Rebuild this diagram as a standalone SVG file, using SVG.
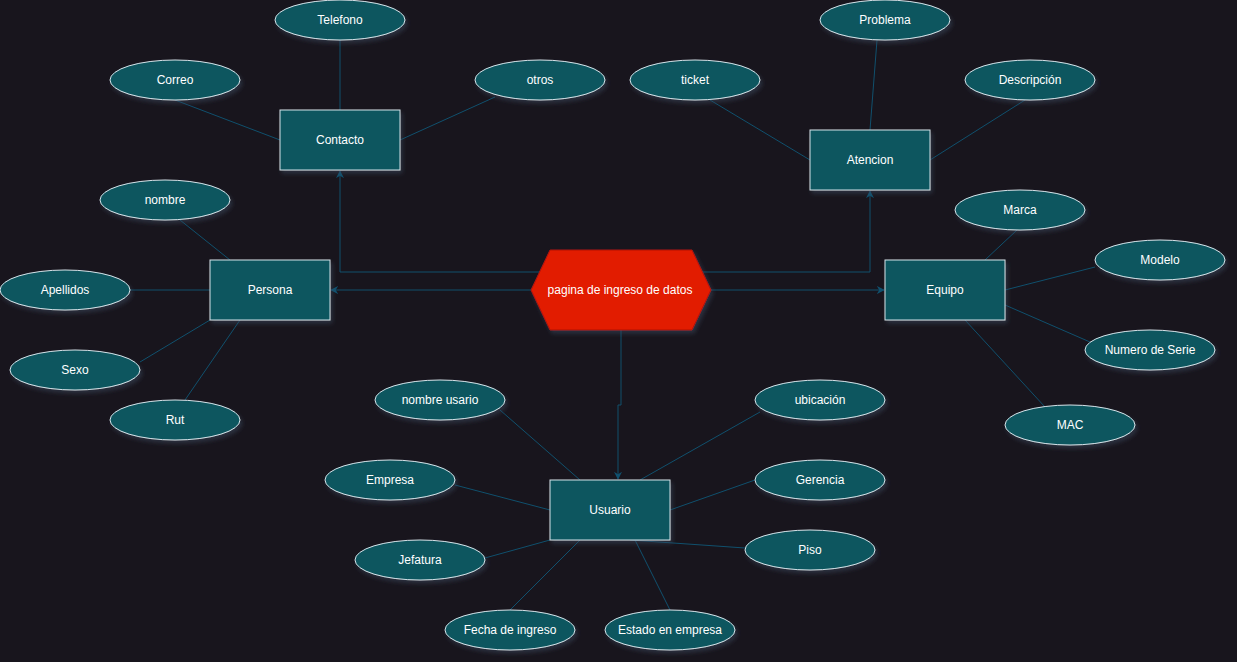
<svg xmlns="http://www.w3.org/2000/svg" width="1237" height="662" viewBox="0 0 1237 662">
<defs>
<filter id="sh" x="-20%" y="-20%" width="140%" height="150%">
<feDropShadow dx="2" dy="3" stdDeviation="2" flood-color="#3a4a5e" flood-opacity="0.5"/>
</filter>
<marker id="arr" viewBox="0 0 10 10" refX="9" refY="5" markerWidth="8" markerHeight="8" markerUnits="userSpaceOnUse" orient="auto">
<path d="M0,0 L10,5 L0,10 L3,5 Z" fill="#10516f"/>
</marker>
</defs>
<style>
.bg{fill:#18151d}
.n{fill:#0b575e;stroke:#d7e3ea;stroke-width:1;filter:url(#sh)}
.hx{fill:#e21a00;stroke:#b0150a;stroke-width:1;filter:url(#sh)}
.t{font-family:"Liberation Sans",Arial,sans-serif;font-size:12px;fill:#ffffff;text-anchor:middle;dominant-baseline:central}
.c{fill:none;stroke:#10506d;stroke-width:1}
.a{marker-end:url(#arr)}
</style>
<rect class="bg" x="0" y="0" width="1237" height="662"/>
<g id="connectors">
<path class="c a" d="M540,272 L340,272 L340,171"/>
<path class="c a" d="M702,272 L870,272 L870,191"/>
<path class="c a" d="M531,290 L331,290"/>
<path class="c a" d="M711,290 L884,290"/>
<path class="c a" d="M621,330 L621,405 L618,405 L618,479"/>
<path class="c" d="M340,40 L340,110"/>
<path class="c" d="M175,100 L280,140"/>
<path class="c" d="M495,97 L400,140"/>
<path class="c" d="M710,100 L810,160"/>
<path class="c" d="M877,40 L870,130"/>
<path class="c" d="M1025,100 L930,160"/>
<path class="c" d="M180,220 L230,260"/>
<path class="c" d="M130,290 L210,290"/>
<path class="c" d="M140,362 L210,320"/>
<path class="c" d="M185,400 L240,320"/>
<path class="c" d="M1017,230 L985,260"/>
<path class="c" d="M1095,267 L1005,290"/>
<path class="c" d="M1090,342 L1005,305"/>
<path class="c" d="M1045,407 L965,320"/>
<path class="c" d="M500,410 L580,480"/>
<path class="c" d="M760,412 L640,480"/>
<path class="c" d="M455,485 L550,510"/>
<path class="c" d="M755,480 L670,510"/>
<path class="c" d="M485,558 L550,540"/>
<path class="c" d="M745,548 L630,540"/>
<path class="c" d="M510,610 L580,540"/>
<path class="c" d="M670,610 L635,540"/>
</g>
<g id="hub"><polygon class="hx" points="531,290 550,250 692,250 711,290 692,330 550,330"/><text class="t" x="620" y="290">pagina de ingreso de datos</text></g>
<g id="contacto"><rect class="n" x="280" y="110" width="120" height="60"/><text class="t" x="340" y="140">Contacto</text></g>
<g id="atencion"><rect class="n" x="810" y="130" width="120" height="60"/><text class="t" x="870" y="160">Atencion</text></g>
<g id="persona"><rect class="n" x="210" y="260" width="120" height="60"/><text class="t" x="270" y="290">Persona</text></g>
<g id="equipo"><rect class="n" x="885" y="260" width="120" height="60"/><text class="t" x="945" y="290">Equipo</text></g>
<g id="usuario"><rect class="n" x="550" y="480" width="120" height="60"/><text class="t" x="610" y="510">Usuario</text></g>
<g id="telefono"><ellipse class="n" cx="340" cy="20" rx="65" ry="20"/><text class="t" x="340" y="20">Telefono</text></g>
<g id="correo"><ellipse class="n" cx="175" cy="80" rx="65" ry="20"/><text class="t" x="175" y="80">Correo</text></g>
<g id="otros"><ellipse class="n" cx="540" cy="80" rx="65" ry="20"/><text class="t" x="540" y="80">otros</text></g>
<g id="ticket"><ellipse class="n" cx="695" cy="80" rx="65" ry="20"/><text class="t" x="695" y="80">ticket</text></g>
<g id="problema"><ellipse class="n" cx="885" cy="20" rx="65" ry="20"/><text class="t" x="885" y="20">Problema</text></g>
<g id="descripcion"><ellipse class="n" cx="1030" cy="80" rx="65" ry="20"/><text class="t" x="1030" y="80">Descripción</text></g>
<g id="nombre"><ellipse class="n" cx="165" cy="200" rx="65" ry="20"/><text class="t" x="165" y="200">nombre</text></g>
<g id="apellidos"><ellipse class="n" cx="65" cy="290" rx="65" ry="20"/><text class="t" x="65" y="290">Apellidos</text></g>
<g id="sexo"><ellipse class="n" cx="75" cy="370" rx="65" ry="20"/><text class="t" x="75" y="370">Sexo</text></g>
<g id="rut"><ellipse class="n" cx="175" cy="420" rx="65" ry="20"/><text class="t" x="175" y="420">Rut</text></g>
<g id="marca"><ellipse class="n" cx="1020" cy="210" rx="65" ry="20"/><text class="t" x="1020" y="210">Marca</text></g>
<g id="modelo"><ellipse class="n" cx="1160" cy="260" rx="65" ry="20"/><text class="t" x="1160" y="260">Modelo</text></g>
<g id="serie"><ellipse class="n" cx="1150" cy="350" rx="65" ry="20"/><text class="t" x="1150" y="350">Numero de Serie</text></g>
<g id="mac"><ellipse class="n" cx="1070" cy="425" rx="65" ry="20"/><text class="t" x="1070" y="425">MAC</text></g>
<g id="nombreusuario"><ellipse class="n" cx="440" cy="400" rx="65" ry="20"/><text class="t" x="440" y="400">nombre usario</text></g>
<g id="ubicacion"><ellipse class="n" cx="820" cy="400" rx="65" ry="20"/><text class="t" x="820" y="400">ubicación</text></g>
<g id="empresa"><ellipse class="n" cx="390" cy="480" rx="65" ry="20"/><text class="t" x="390" y="480">Empresa</text></g>
<g id="gerencia"><ellipse class="n" cx="820" cy="480" rx="65" ry="20"/><text class="t" x="820" y="480">Gerencia</text></g>
<g id="jefatura"><ellipse class="n" cx="420" cy="560" rx="65" ry="20"/><text class="t" x="420" y="560">Jefatura</text></g>
<g id="piso"><ellipse class="n" cx="810" cy="550" rx="65" ry="20"/><text class="t" x="810" y="550">Piso</text></g>
<g id="fecha"><ellipse class="n" cx="510" cy="630" rx="65" ry="20"/><text class="t" x="510" y="630">Fecha de ingreso</text></g>
<g id="estado"><ellipse class="n" cx="670" cy="630" rx="65" ry="20"/><text class="t" x="670" y="630">Estado en empresa</text></g>
</svg>
